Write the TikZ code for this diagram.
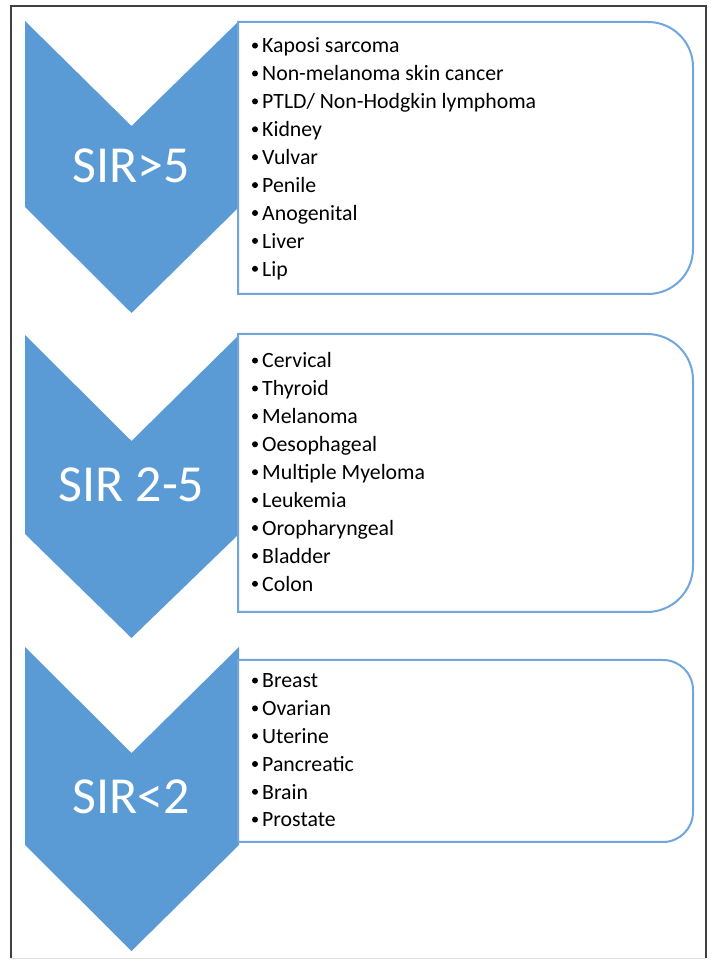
\documentclass[tikz,border=0pt]{standalone}
\usepackage{fontspec}
\setmainfont{Carlito}
\definecolor{chev}{RGB}{91,155,213}
\definecolor{boxline}{RGB}{112,166,221}
\definecolor{frame}{RGB}{64,64,64}
\begin{document}
\begin{tikzpicture}[x=1pt,y=1pt,
  chevron/.style={fill=chev,draw=none},
  listbox/.style={draw=boxline,line width=2pt,fill=white},
  sirlabel/.style={text=white,anchor=base,inner sep=0pt,font=\fontsize{52}{60}\selectfont},
  item/.style={anchor=base west,inner sep=0pt,font=\fontsize{21.8}{26}\selectfont},
  dot/.style={fill=black}]
\useasboundingbox (0,0) rectangle (710,960);
\draw[frame,line width=1.2pt] (11,1.5) -- (11,954) -- (706,954) -- (706,1.5);
\draw[black!12,line width=1pt] (11,1.5) -- (706,1.5);
% chevrons
\path[chevron] (25,939) -- (131.5,834) -- (239,939) -- (239,753) -- (131.5,647) -- (25,753) -- cycle;
\path[chevron] (25,625) -- (131.5,519) -- (239,625) -- (239,426) -- (131.5,322) -- (25,426) -- cycle;
\path[chevron] (25,313) -- (131.5,207) -- (239,313) -- (239,115) -- (131.5,9) -- (25,115) -- cycle;
% boxes
\draw[listbox] (238,938) -- (648,938) arc[start angle=90,end angle=0,radius=45] -- (693,711) arc[start angle=0,end angle=-90,radius=45] -- (238,666) -- cycle;
\draw[listbox] (238,626) -- (647,626) arc[start angle=90,end angle=0,radius=46] -- (693,394) arc[start angle=0,end angle=-90,radius=46] -- (238,348) -- cycle;
\draw[listbox] (238,300) -- (663,300) arc[start angle=90,end angle=0,radius=30] -- (693,148) arc[start angle=0,end angle=-90,radius=30] -- (238,118) -- cycle;
% labels
\node[sirlabel] (s1) at (131.5,777) {SIR>5};
\node[sirlabel] (s2) at (131.5,458) {SIR 2-5};
\node[sirlabel] (s3) at (131.5,146) {SIR<2};
% items
\foreach \t [count=\i from 0] in {Kaposi sarcoma,Non-melanoma skin cancer,PTLD/ Non-Hodgkin lymphoma,Kidney,Vulvar,Penile,Anogenital,Liver,Lip}{
  \node[item] (a\i) at (262,907-27.9*\i) {\t};
  \fill[dot] (255,914.4-27.9*\i) circle (3);}
\foreach \t [count=\i from 0] in {Cervical,Thyroid,Melanoma,Oesophageal,Multiple Myeloma,Leukemia,Oropharyngeal,Bladder,Colon}{
  \node[item] (b\i) at (262,592-27.9*\i) {\t};
  \fill[dot] (255,599.4-27.9*\i) circle (3);}
\foreach \t [count=\i from 0] in {Breast,Ovarian,Uterine,Pancreatic,Brain,Prostate}{
  \node[item] (c\i) at (262,272-27.8*\i) {\t};
  \fill[dot] (255,279.4-27.8*\i) circle (3);}
\end{tikzpicture}
\end{document}
